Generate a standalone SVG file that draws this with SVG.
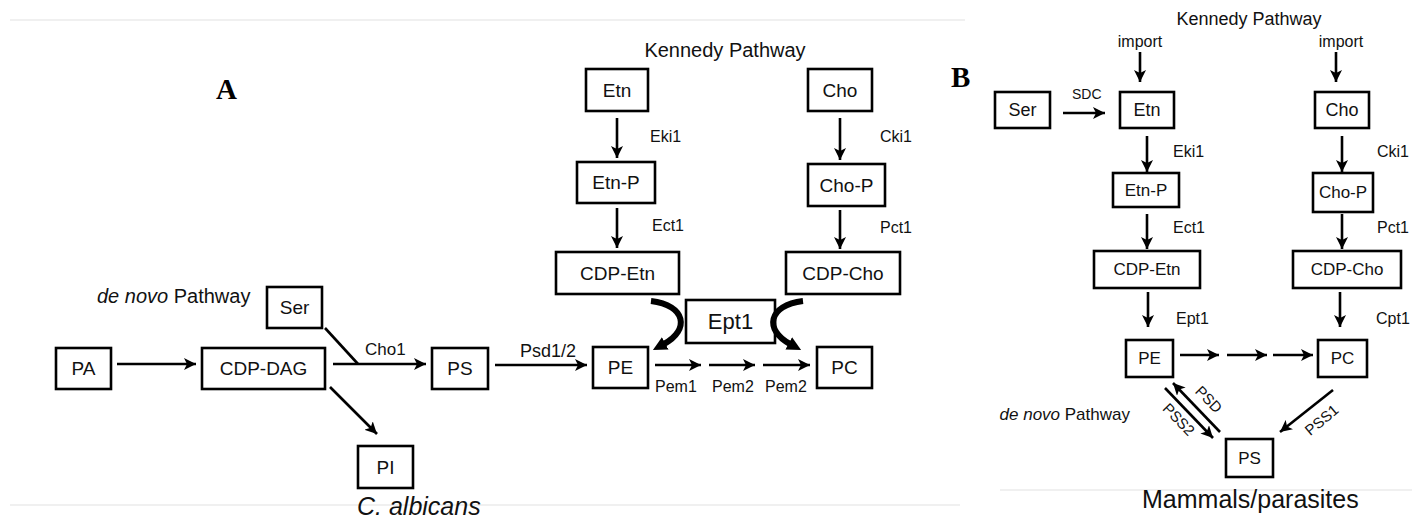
<svg xmlns="http://www.w3.org/2000/svg" width="1412" height="521" viewBox="0 0 1412 521">
<style>
.bx{fill:#fff;stroke:#000;stroke-width:2.6}
.t{font-family:"Liberation Sans",Arial,sans-serif;fill:#111}
.n{font-size:19px;text-anchor:middle}
.nb{font-size:18px;text-anchor:middle}
.e{font-size:16px}
.ln{stroke:#000;stroke-width:2.6;fill:none}
.ar{stroke:#000;stroke-width:2.6;fill:none;marker-end:url(#ah)}
.cv{stroke:#000;stroke-width:6;fill:none;marker-end:url(#ahb)}
.lbl{font-family:"Liberation Serif","Times New Roman",serif;font-weight:bold;font-size:29px;fill:#000}
.faint{stroke:#f0f0f0;stroke-width:2}
</style>
<defs>
<marker id="ah" viewBox="0 0 10 10" refX="10" refY="5" markerWidth="12" markerHeight="12" markerUnits="userSpaceOnUse" orient="auto">
<path d="M0,0 L10,5 L0,10 L2.5,5 z" fill="#000"/>
</marker>
<marker id="ahb" viewBox="0 0 10 10" refX="1" refY="5" markerWidth="14" markerHeight="14" markerUnits="userSpaceOnUse" orient="auto">
<path d="M0,0 L10,5 L0,10 z" fill="#000"/>
</marker>
</defs>
<rect width="1412" height="521" fill="#fff"/>
<line class="faint" x1="10" y1="20" x2="965" y2="20"/>
<line class="faint" x1="10" y1="505" x2="960" y2="505"/>
<line class="faint" x1="1000" y1="490" x2="1412" y2="490"/>

<!-- Panel A labels -->
<text class="lbl" x="216" y="99">A</text>
<text class="t" x="725" y="57" font-size="20" text-anchor="middle">Kennedy Pathway</text>
<text class="t" x="97" y="303" font-size="20"><tspan font-style="italic">de novo</tspan> Pathway</text>
<text class="t" x="357" y="515" font-size="25" font-style="italic">C. albicans</text>

<!-- Panel A nodes -->
<g id="A_PA"><rect class="bx" x="56" y="348" width="55" height="41"/><text class="t n" x="83.5" y="375">PA</text></g>
<g id="A_CDPDAG"><rect class="bx" x="202" y="348" width="123" height="41"/><text class="t n" x="263.5" y="375">CDP-DAG</text></g>
<g id="A_Ser"><rect class="bx" x="267" y="287" width="55" height="41"/><text class="t n" x="294.5" y="314">Ser</text></g>
<g id="A_PS"><rect class="bx" x="432" y="348" width="56" height="41"/><text class="t n" x="460" y="375">PS</text></g>
<g id="A_PI"><rect class="bx" x="358" y="446" width="55" height="42"/><text class="t n" x="385.5" y="474">PI</text></g>
<g id="A_PE"><rect class="bx" x="593" y="347" width="55" height="41"/><text class="t n" x="620.5" y="374">PE</text></g>
<g id="A_PC"><rect class="bx" x="817" y="347" width="55" height="41"/><text class="t n" x="844.5" y="374">PC</text></g>
<g id="A_Etn"><rect class="bx" x="586" y="69" width="62" height="42"/><text class="t n" x="617" y="97">Etn</text></g>
<g id="A_EtnP"><rect class="bx" x="577" y="162" width="78" height="41"/><text class="t n" x="616" y="189">Etn-P</text></g>
<g id="A_CDPEtn"><rect class="bx" x="556" y="252" width="123" height="42"/><text class="t n" x="617.5" y="280">CDP-Etn</text></g>
<g id="A_Cho"><rect class="bx" x="808" y="69" width="64" height="42"/><text class="t n" x="840" y="97">Cho</text></g>
<g id="A_ChoP"><rect class="bx" x="808" y="164" width="77" height="42"/><text class="t n" x="846.5" y="192">Cho-P</text></g>
<g id="A_CDPCho"><rect class="bx" x="786" y="252" width="114" height="42"/><text class="t n" x="843" y="280">CDP-Cho</text></g>
<g id="A_Ept1"><rect class="bx" x="686" y="300" width="89" height="43"/><text class="t" x="730.5" y="329" font-size="22" text-anchor="middle">Ept1</text></g>

<!-- Panel A connectors -->
<g id="A_connectors">
<line class="ar" x1="117" y1="364" x2="196" y2="364"/>
<line class="ar" x1="333" y1="364" x2="426" y2="364"/>
<line class="ln" x1="325" y1="328" x2="358" y2="364"/>
<line class="ar" x1="330" y1="387" x2="377" y2="434"/>
<line class="ar" x1="495" y1="365" x2="587" y2="365"/>
<line class="ar" x1="617" y1="118" x2="617" y2="158"/>
<line class="ar" x1="617" y1="208" x2="617" y2="248"/>
<line class="ar" x1="840" y1="118" x2="840" y2="160"/>
<line class="ar" x1="840" y1="210" x2="840" y2="249"/>
<line class="ar" x1="655" y1="365" x2="701" y2="365"/>
<line class="ar" x1="709" y1="365" x2="755" y2="365"/>
<line class="ar" x1="763" y1="365" x2="810" y2="365"/>
<path class="cv" d="M651 301 C686 305 690 330 664 344"/>
<path class="cv" d="M803 301 C768 305 764 330 790 344"/>
</g>
<g id="A_enzymes">
<text class="t e" x="650" y="142">Eki1</text>
<text class="t e" x="652" y="231">Ect1</text>
<text class="t e" x="880" y="142">Cki1</text>
<text class="t e" x="880" y="233">Pct1</text>
<text class="t" x="365" y="355" font-size="17">Cho1</text>
<text class="t" x="520" y="357" font-size="18">Psd1/2</text>
<text class="t e" x="655" y="392">Pem1</text>
<text class="t e" x="712" y="392">Pem2</text>
<text class="t e" x="765" y="392">Pem2</text>
</g>

<!-- Panel B labels -->
<text class="lbl" x="951" y="87">B</text>
<text class="t" x="1249" y="25" font-size="18" text-anchor="middle">Kennedy Pathway</text>
<text class="t" x="1140" y="47" font-size="16" text-anchor="middle">import</text>
<text class="t" x="1341" y="47" font-size="16" text-anchor="middle">import</text>
<text class="t" x="1130" y="420" font-size="17" text-anchor="end"><tspan font-style="italic">de novo</tspan> Pathway</text>
<text class="t" x="1142" y="508" font-size="25">Mammals/parasites</text>

<!-- Panel B nodes -->
<g id="B_Ser"><rect class="bx" x="995" y="92" width="55" height="36"/><text class="t nb" x="1022.5" y="116">Ser</text></g>
<g id="B_Etn"><rect class="bx" x="1120" y="92" width="54" height="36"/><text class="t nb" x="1147" y="116">Etn</text></g>
<g id="B_Cho"><rect class="bx" x="1315" y="92" width="54" height="36"/><text class="t nb" x="1342" y="116">Cho</text></g>
<g id="B_EtnP"><rect class="bx" x="1113" y="173" width="66" height="34"/><text class="t" x="1146" y="196" font-size="17" text-anchor="middle">Etn-P</text></g>
<g id="B_ChoP"><rect class="bx" x="1313" y="173" width="60" height="39"/><text class="t" x="1343" y="198" font-size="17" text-anchor="middle">Cho-P</text></g>
<g id="B_CDPEtn"><rect class="bx" x="1094" y="251" width="106" height="37"/><text class="t" x="1147" y="275" font-size="17" text-anchor="middle">CDP-Etn</text></g>
<g id="B_CDPCho"><rect class="bx" x="1293" y="251" width="108" height="37"/><text class="t" x="1347" y="275" font-size="17" text-anchor="middle">CDP-Cho</text></g>
<g id="B_PE"><rect class="bx" x="1126" y="340" width="47" height="37"/><text class="t" x="1149.5" y="364" font-size="17" text-anchor="middle">PE</text></g>
<g id="B_PC"><rect class="bx" x="1318" y="340" width="49" height="37"/><text class="t" x="1342.5" y="364" font-size="17" text-anchor="middle">PC</text></g>
<g id="B_PS"><rect class="bx" x="1226" y="439" width="47" height="38"/><text class="t" x="1249.5" y="464" font-size="17" text-anchor="middle">PS</text></g>

<!-- Panel B connectors -->
<g id="B_connectors">
<line class="ar" x1="1140" y1="52" x2="1140" y2="82"/>
<line class="ar" x1="1336" y1="52" x2="1336" y2="82"/>
<line class="ar" x1="1063" y1="113" x2="1105" y2="113"/>
<line class="ar" x1="1147" y1="136" x2="1147" y2="172"/>
<line class="ar" x1="1147" y1="214" x2="1147" y2="249"/>
<line class="ar" x1="1342" y1="136" x2="1342" y2="172"/>
<line class="ar" x1="1342" y1="214" x2="1342" y2="249"/>
<line class="ar" x1="1148" y1="292" x2="1148" y2="327"/>
<line class="ar" x1="1340" y1="292" x2="1340" y2="327"/>
<line class="ar" x1="1180" y1="355" x2="1219" y2="355"/>
<line class="ar" x1="1227" y1="355" x2="1267" y2="355"/>
<line class="ar" x1="1273" y1="355" x2="1313" y2="355"/>
<line class="ar" x1="1165" y1="388" x2="1213" y2="438"/>
<line class="ar" x1="1220" y1="432" x2="1173" y2="383"/>
<line class="ar" x1="1333" y1="390" x2="1280" y2="432"/>
</g>
<g id="B_enzymes">
<text class="t" x="1072" y="99" font-size="14">SDC</text>
<text class="t e" x="1173" y="157">Eki1</text>
<text class="t e" x="1173" y="233">Ect1</text>
<text class="t e" x="1377" y="157">Cki1</text>
<text class="t e" x="1377" y="233">Pct1</text>
<text class="t e" x="1176" y="324">Ept1</text>
<text class="t e" x="1376" y="324">Cpt1</text>
<text class="t" x="0" y="0" font-size="15" text-anchor="middle" transform="translate(1205 403) rotate(46)">PSD</text>
<text class="t" x="0" y="0" font-size="15" text-anchor="middle" transform="translate(1175 423) rotate(46)">PSS2</text>
<text class="t" x="0" y="0" font-size="15" text-anchor="middle" transform="translate(1325 424) rotate(-40)">PSS1</text>
</g>
</svg>
